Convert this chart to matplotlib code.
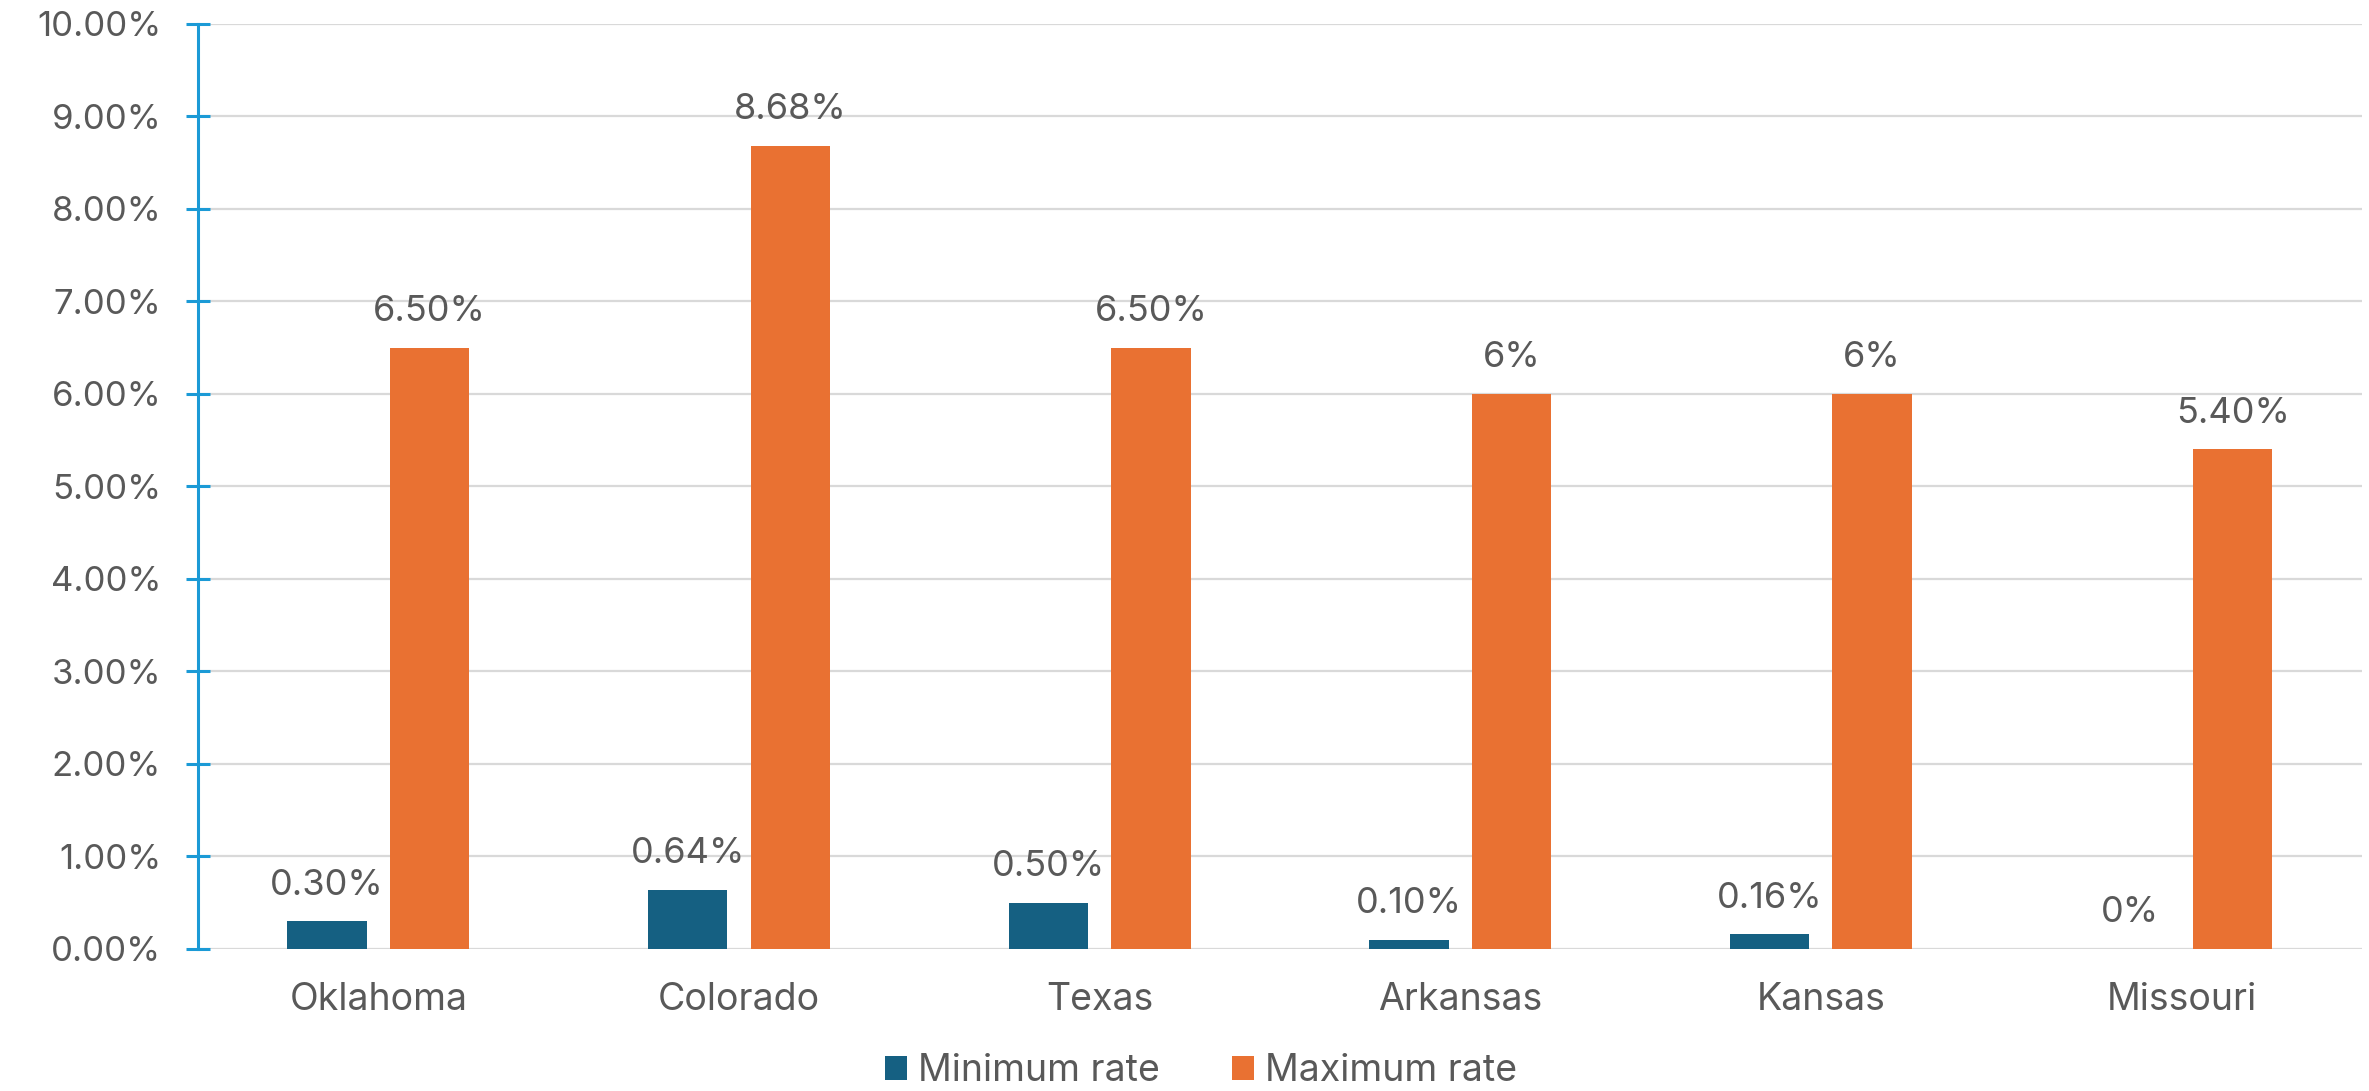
import matplotlib.pyplot as plt
import numpy as np

plt.rcParams['font.family'] = ['Inter', 'DejaVu Sans']

states = ['Oklahoma', 'Colorado', 'Texas', 'Arkansas', 'Kansas', 'Missouri']
min_rate = [0.30, 0.64, 0.50, 0.10, 0.16, 0.0]
max_rate = [6.50, 8.68, 6.50, 6.0, 6.0, 5.40]
min_labels = ['0.30%', '0.64%', '0.50%', '0.10%', '0.16%', '0%']
max_labels = ['6.50%', '8.68%', '6.50%', '6%', '6%', '5.40%']

blue = '#156082'
orange = '#E97132'
txt = '#595959'

fig = plt.figure(figsize=(23.69, 10.91), dpi=100)
ax = fig.add_axes([0.0836, 0.1302, 0.9134, 0.848])

x = np.arange(len(states))
w = 0.22
off = 0.142
b1 = ax.bar(x - off, min_rate, w, color=blue, label='Minimum rate', zorder=3)
b2 = ax.bar(x + off, max_rate, w, color=orange, label='Maximum rate', zorder=3)

for bars, labs in ((b1, min_labels), (b2, max_labels)):
    for r, s in zip(bars, labs):
        ax.annotate(s, (r.get_x() + r.get_width() / 2, r.get_height()),
                    xytext=(0, 26), textcoords='offset points',
                    ha='center', va='center', fontsize=26, color=txt)

ax.set_xlim(-0.5, 5.5)
ax.set_ylim(0, 10)
ax.set_yticks(np.arange(0, 11, 1))
ax.set_yticklabels([f'{v:.2f}%' for v in range(0, 11)])
ax.set_xticks(x)
ax.set_xticklabels(states)

ax.yaxis.grid(True, color='#D9D9D9', linewidth=1.6, zorder=0)
ax.set_axisbelow(True)
for s in ('top', 'right', 'bottom'):
    ax.spines[s].set_visible(False)
ax.spines['left'].set_color('#1B9AD6')
ax.spines['left'].set_linewidth(2.2)
ax.tick_params(axis='y', direction='inout', length=17, width=2.2, color='#1B9AD6',
               labelsize=25, labelcolor=txt, pad=18)
ax.tick_params(axis='x', length=0, labelsize=27, labelcolor=txt, pad=24)

fig.legend(loc='lower center', bbox_to_anchor=(0.507, -0.029), ncol=2, frameon=False,
           fontsize=27, labelcolor=txt, handlelength=0.6, handleheight=0.6,
           handletextpad=0.3, columnspacing=1.9)

fig.savefig('out.png', dpi=100)
